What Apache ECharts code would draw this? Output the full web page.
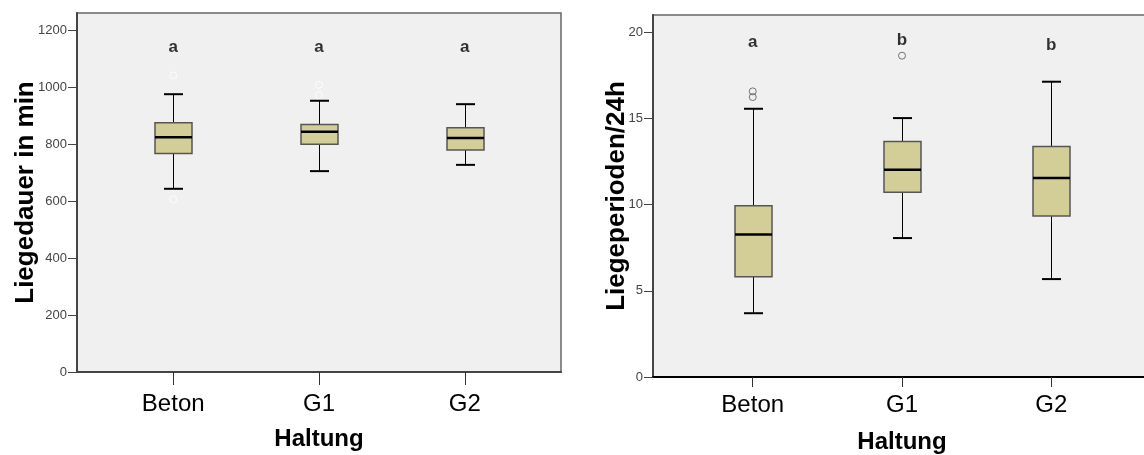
<!DOCTYPE html>
<html>
<head>
<meta charset="utf-8">
<script src="https://cdn.jsdelivr.net/npm/echarts@6/dist/echarts.min.js"></script>
<style>
  html, body { margin: 0; padding: 0; background: #fff; }
  #chart { width: 1144px; height: 455px; }
</style>
</head>
<body>
<div id="chart"></div>
<script>
// categories and values
const categories = ["Beton", "G1", "G2"];

// left panel: Liegedauer in min  [min, Q1, median, Q3, max]
const dauerBox = [
  [643, 767, 824, 875, 975],
  [705, 799, 843, 869, 952],
  [727, 779, 821, 857, 940]
];
const dauerOutliers = [[1, 1041], [1, 606], [2, 1008], [2, 972]];
const dauerLetters = ["a", "a", "a"];
const dauerLetterLevel = [1138, 1138, 1138];
const dauerTicks = [0, 200, 400, 600, 800, 1000, 1200];

// right panel: Liegeperioden/24h
const periodenBox = [
  [3.7, 5.81, 8.26, 9.94, 15.56],
  [8.06, 10.72, 12.02, 13.66, 15.02],
  [5.68, 9.34, 11.55, 13.37, 17.13]
];
const periodenOutliers = [[1, 16.57], [1, 16.24], [2, 18.64]];
const periodenLetters = ["a", "b", "b"];
const periodenLetterLevel = [19.4, 19.55, 19.26];
const periodenTicks = [0, 5, 10, 15, 20];

const catPos = [1, 2, 3];
const FONT = "Liberation Sans, Arial, sans-serif";

function renderBox(params, api) {
  var x = api.value(0);
  var lo = api.coord([x, api.value(1)]);
  var q1 = api.coord([x, api.value(2)]);
  var md = api.coord([x, api.value(3)]);
  var q3 = api.coord([x, api.value(4)]);
  var hi = api.coord([x, api.value(5)]);
  var cx = Math.round(lo[0]) + 0.5;
  var half = 18.5, cap = 9.5;
  var line = function (x1, y1, x2, y2, w) {
    return {
      type: "line",
      shape: { x1: x1, y1: y1, x2: x2, y2: y2 },
      style: { stroke: "#000", lineWidth: w }
    };
  };
  return {
    type: "group",
    children: [
      line(cx, hi[1], cx, q3[1], 1),
      line(cx, q1[1], cx, lo[1], 1),
      line(cx - cap, hi[1], cx + cap, hi[1], 2),
      line(cx - cap, lo[1], cx + cap, lo[1], 2),
      {
        type: "rect",
        shape: { x: cx - half, y: q3[1], width: half * 2, height: q1[1] - q3[1] },
        style: { fill: "#d3ce98", stroke: "#555", lineWidth: 1.5 }
      },
      line(cx - half, md[1], cx + half, md[1], 2.5)
    ]
  };
}

function xAxisFor(gridIndex, min, max, axisColor, tickLen, labelMargin, nameGap) {
  return {
    type: "value",
    gridIndex: gridIndex,
    min: min,
    max: max,
    name: "Haltung",
    nameLocation: "middle",
    nameGap: nameGap,
    nameMoveOverlap: false,
    nameTextStyle: { fontFamily: FONT, fontSize: 24, fontWeight: "bold", color: "#000" },
    splitLine: { show: false },
    axisLine: { show: true, lineStyle: { color: axisColor, width: 2 } },
    axisTick: { show: true, customValues: catPos, length: tickLen, lineStyle: { color: "#333", width: 1 } },
    axisLabel: {
      customValues: catPos,
      margin: labelMargin,
      fontFamily: FONT,
      fontSize: 24,
      color: "#000",
      formatter: function (v) { return categories[Math.round(v) - 1]; }
    }
  };
}

function yAxisFor(gridIndex, max, ticks, name, nameGap) {
  return {
    type: "value",
    gridIndex: gridIndex,
    min: 0,
    max: max,
    name: name,
    nameLocation: "middle",
    nameGap: nameGap,
    nameMoveOverlap: false,
    nameTextStyle: { fontFamily: FONT, fontSize: 26, fontWeight: "bold", color: "#000" },
    splitLine: { show: false },
    axisLine: { show: true, lineStyle: { color: "#444", width: 2 } },
    axisTick: { show: true, customValues: ticks, length: 9, lineStyle: { color: "#444", width: 1 } },
    axisLabel: {
      customValues: ticks, margin: 10, fontFamily: FONT, fontSize: 13, color: "#444",
      formatter: function (v) { return String(v); }
    }
  };
}

function letterSeries(idx, letters, levels) {
  return {
    type: "scatter",
    xAxisIndex: idx,
    yAxisIndex: idx,
    symbolSize: 1,
    itemStyle: { color: "rgba(0,0,0,0)" },
    silent: true,
    label: {
      show: true,
      position: "inside",
      fontFamily: FONT,
      fontSize: 17,
      fontWeight: "bold",
      color: "#000",
      formatter: function (p) { return letters[p.dataIndex]; }
    },
    data: levels.map(function (v, i) { return [catPos[i], v]; })
  };
}

var chart = echarts.init(document.getElementById("chart"));
var option = {
  animation: false,
  backgroundColor: "#fff",
  grid: [
    { left: 77, top: 13, width: 484, height: 359, show: true, backgroundColor: "#f0f0f0",
      borderColor: "#666", borderWidth: 1.5, outerBoundsMode: "none" },
    { left: 653, top: 15, width: 498, height: 362, show: true, backgroundColor: "#f0f0f0",
      borderColor: "#666", borderWidth: 1.5, outerBoundsMode: "none" }
  ],
  xAxis: [
    xAxisFor(0, 0.34, 3.66, "#444", 13, 20, 55),
    xAxisFor(1, 0.332, 3.668, "#000", 10, 16, 53)
  ],
  yAxis: [
    yAxisFor(0, 1260, dauerTicks, "Liegedauer in min", 38),
    yAxisFor(1, 21, periodenTicks, "Liegeperioden/24h", 23)
  ],
  series: [
    {
      type: "custom",
      xAxisIndex: 0,
      yAxisIndex: 0,
      renderItem: renderBox,
      encode: { x: 0, y: [1, 2, 3, 4, 5] },
      data: dauerBox.map(function (b, i) { return [catPos[i]].concat(b); })
    },
    {
      type: "scatter",
      xAxisIndex: 0,
      yAxisIndex: 0,
      symbol: "circle",
      symbolSize: 7,
      itemStyle: { color: "rgba(0,0,0,0)", borderColor: "#fff", borderWidth: 1 },
      data: dauerOutliers
    },
    letterSeries(0, dauerLetters, dauerLetterLevel),
    {
      type: "custom",
      xAxisIndex: 1,
      yAxisIndex: 1,
      renderItem: renderBox,
      encode: { x: 0, y: [1, 2, 3, 4, 5] },
      data: periodenBox.map(function (b, i) { return [catPos[i]].concat(b); })
    },
    {
      type: "scatter",
      xAxisIndex: 1,
      yAxisIndex: 1,
      symbol: "circle",
      symbolSize: 7,
      itemStyle: { color: "rgba(0,0,0,0)", borderColor: "#555", borderWidth: 1 },
      data: periodenOutliers
    },
    letterSeries(1, periodenLetters, periodenLetterLevel)
  ]
};
chart.setOption(option);
</script>
</body>
</html>
